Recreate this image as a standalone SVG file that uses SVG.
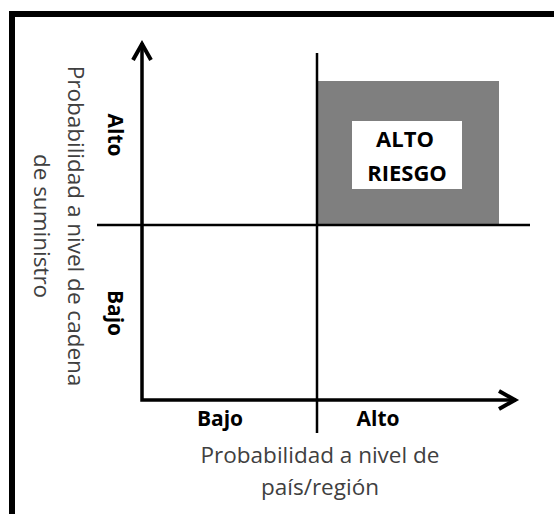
<svg xmlns="http://www.w3.org/2000/svg" width="554" height="514" viewBox="0 0 554 514">
<style>
.lbl{font-family:"Open Sans","Liberation Sans",sans-serif;font-weight:bold;font-size:21px;fill:#000;text-anchor:middle}
.big{font-size:22px}
.ttl{font-family:"Open Sans","Liberation Sans",sans-serif;font-size:22.5px;fill:#404040;text-anchor:middle}
.ax{fill:none;stroke:#000;stroke-width:3.5}
.div{fill:none;stroke:#000;stroke-width:2.5}
</style>
<defs>
<marker id="arr" viewBox="-22 -12 26 24" refX="0" refY="0" markerWidth="26" markerHeight="24" markerUnits="userSpaceOnUse" orient="auto-start-reverse">
<path d="M-17,-9 L-1,0 L-17,9" fill="none" stroke="#000" stroke-width="4"/>
</marker>
</defs>
<rect width="554" height="514" fill="#fff"/>
<path d="M12,514 L12,14 L554,14" fill="none" stroke="#000" stroke-width="6"/>
<g id="alto-riesgo">
<rect x="318" y="81" width="181" height="143" fill="#7f7f7f"/>
<rect x="352" y="121" width="110" height="68" fill="#fff"/>
<text class="lbl big" x="405" y="147">ALTO</text>
<text class="lbl big" x="407" y="181">RIESGO</text>
</g>
<g id="connectors">
<path class="ax" d="M142,43 L142,400 L516,400" marker-start="url(#arr)" marker-end="url(#arr)"/>
<line class="div" x1="97" y1="225" x2="530" y2="225"/>
<line class="div" x1="317" y1="53" x2="317" y2="433"/>
</g>
<g id="eje-y-alto"><text class="lbl" transform="translate(108,135) rotate(90)">Alto</text></g>
<g id="eje-y-bajo"><text class="lbl" transform="translate(108,313) rotate(90)">Bajo</text></g>
<g id="eje-x-bajo"><text class="lbl" x="220" y="426">Bajo</text></g>
<g id="eje-x-alto"><text class="lbl" x="378" y="426">Alto</text></g>
<g id="titulo-x">
<text class="ttl" x="320" y="463">Probabilidad a nivel de</text>
<text class="ttl" x="320" y="495">país/región</text>
</g>
<g id="titulo-y">
<text class="ttl" transform="translate(68,226) rotate(90)">Probabilidad a nivel de cadena</text>
<text class="ttl" transform="translate(34,226) rotate(90)">de suministro</text>
</g>
</svg>
